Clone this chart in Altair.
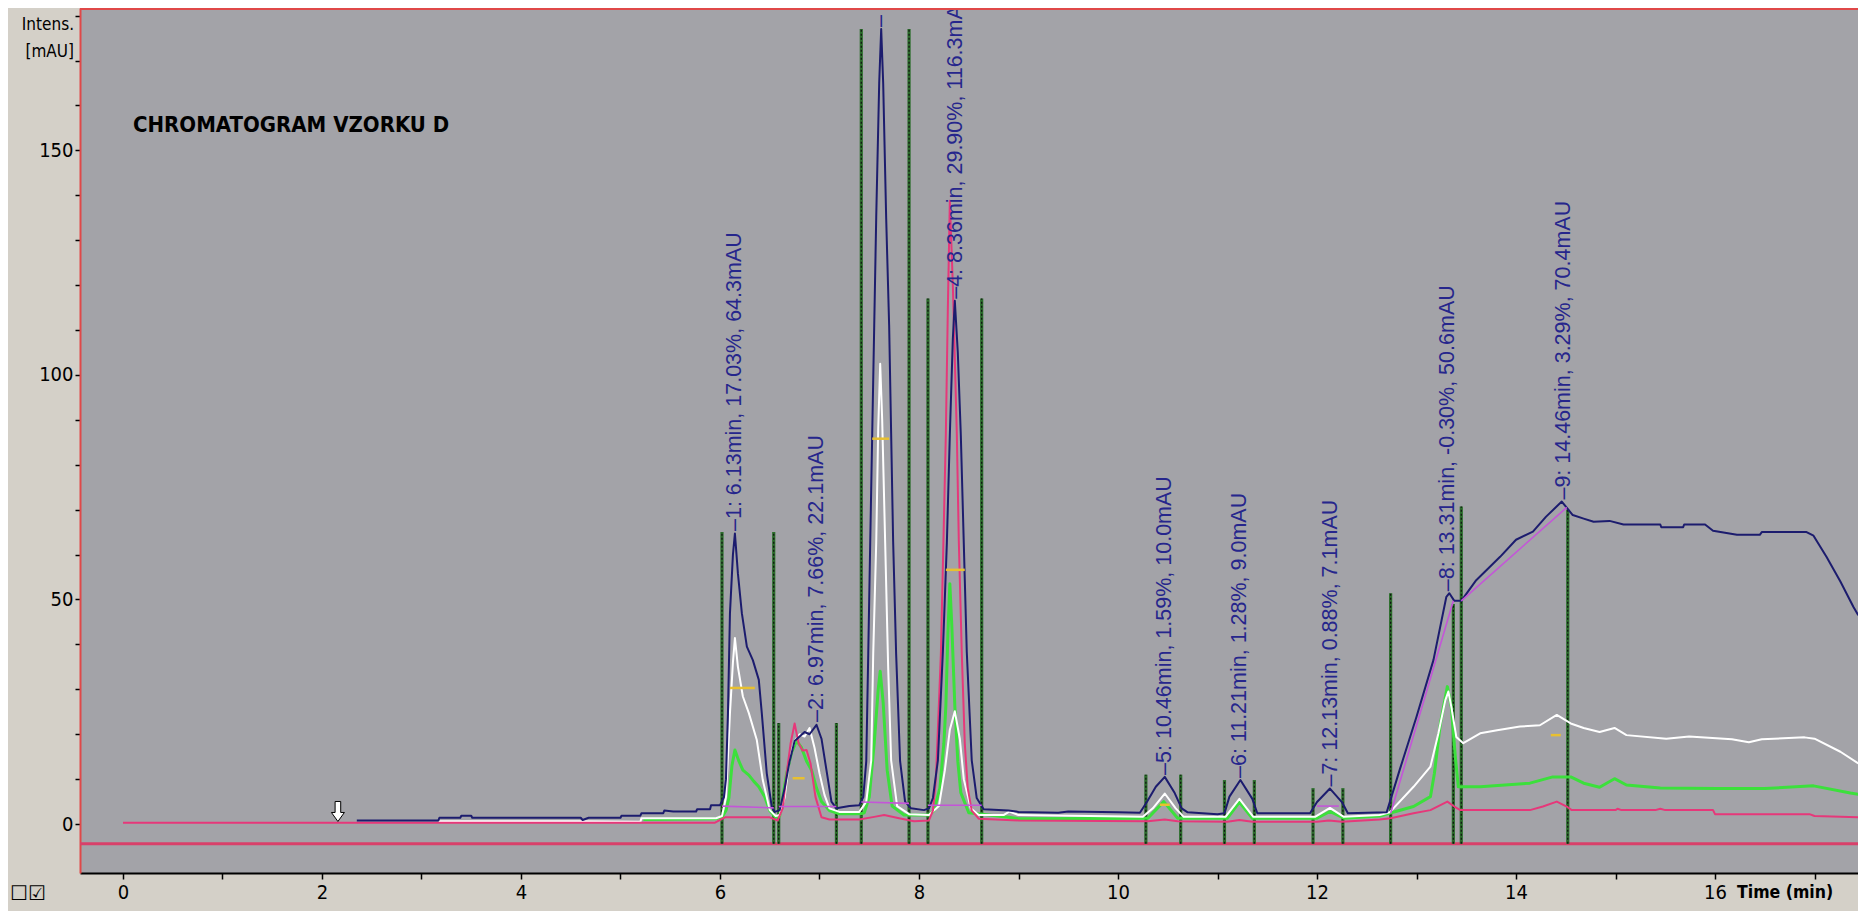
import altair as alt
import pandas as pd

# ---------------- data ----------------
navy_t = [2.35, 3.17, 3.18, 3.39, 3.40, 3.50, 3.51, 4.60, 4.62, 4.68, 5.00, 5.01, 5.20, 5.21, 5.43, 5.44, 5.53, 5.76, 5.77, 5.90, 5.91, 6.00,
          6.04, 6.06, 6.08, 6.10, 6.13, 6.15, 6.18, 6.22, 6.27, 6.33, 6.39, 6.42, 6.47, 6.52, 6.55,
          6.60, 6.65, 6.70, 6.75, 6.80, 6.85, 6.90, 6.97, 7.02, 7.07, 7.12, 7.17, 7.30, 7.40,
          7.44, 7.47, 7.49, 7.51, 7.53, 7.55, 7.57, 7.60, 7.62, 7.64, 7.67, 7.70, 7.72, 7.74, 7.77, 7.81, 7.86, 7.92,
          8.05, 8.10, 8.14, 8.19, 8.24, 8.28, 8.31, 8.34, 8.36, 8.39, 8.42, 8.45, 8.48, 8.53, 8.58, 8.65,
          8.90, 9.00, 9.40, 9.50, 10.00, 10.22, 10.29, 10.38, 10.47, 10.57, 10.64, 10.70, 11.00,
          11.07, 11.12, 11.23, 11.35, 11.40, 11.93, 12.00, 12.13, 12.25, 12.31, 12.70,
          12.83, 13.00, 13.17, 13.30, 13.33, 13.38, 13.45, 13.60, 13.84, 14.00, 14.17, 14.30, 14.46,
          14.57, 14.68, 14.78, 14.94, 15.08, 15.45, 15.46, 15.68, 15.69, 15.90, 15.98, 16.22, 16.45, 16.47,
          16.92, 16.99, 17.12, 17.26, 17.39, 17.44]
navy_v = [0.8, 0.8, 1.4, 1.4, 1.85, 1.85, 1.4, 1.4, 0.9, 1.4, 1.4, 1.85, 1.85, 2.4, 2.4, 3.0, 2.8, 2.8, 3.3, 3.3, 4.2, 4.2,
          6.0, 10.0, 24.7, 46.9, 60.0, 64.7, 55.8, 46.9, 39.5, 36.5, 32.1, 24.7, 11.3, 3.9, 2.7,
          3.1, 8.0, 14.0, 18.5, 19.5, 20.5, 20.0, 22.1, 19.0, 12.0, 5.0, 3.5, 4.0, 4.2,
          6.0, 14.0, 38.0, 63.0, 87.0, 111.0, 135.0, 165.0, 177.0, 165.0, 135.0, 111.0, 87.0, 63.0, 38.0, 14.0, 5.0, 3.5,
          3.1, 3.5, 5.8, 14.2, 38.4, 62.6, 86.8, 108.0, 116.5, 105.0, 86.8, 62.6, 38.4, 14.2, 5.8, 3.3,
          3.0, 2.7, 2.5, 2.8, 2.6, 2.5, 4.9, 8.3, 10.5, 6.9, 3.5, 2.6, 2.2,
          2.4, 6.1, 9.8, 5.6, 2.4, 2.4, 4.9, 7.9, 4.9, 2.4, 2.6,
          12.0, 23.9, 36.5, 50.6, 51.4, 49.7, 49.7, 54.3, 59.5, 63.3, 65.1, 68.4, 71.8,
          68.8, 68.0, 67.3, 67.5, 66.7, 66.7, 66.1, 66.1, 66.7, 66.7, 65.3, 64.4, 64.4, 65.0,
          65.0, 64.2, 59.5, 54.0, 48.4, 46.5]

white_t = [3.17, 4.60, 5.20, 5.21, 5.96, 6.02, 6.06, 6.08, 6.10, 6.13, 6.15, 6.18, 6.23, 6.29, 6.37, 6.43, 6.50, 6.56,
           6.60, 6.65, 6.70, 6.75, 6.80, 6.85, 6.90, 6.95, 7.00, 7.05, 7.10, 7.20, 7.40,
           7.47, 7.52, 7.54, 7.57, 7.59, 7.61, 7.63, 7.66, 7.69, 7.72, 7.78, 7.90,
           8.10, 8.20, 8.26, 8.31, 8.36, 8.41, 8.45, 8.52, 8.60, 8.85, 8.91, 9.00,
           10.25, 10.35, 10.47, 10.58, 10.66, 11.08, 11.22, 11.36, 11.98, 12.13, 12.27, 12.63, 12.73,
           12.97, 13.14, 13.22, 13.29, 13.32, 13.35, 13.40, 13.47, 13.64, 13.81, 14.04, 14.24, 14.41,
           14.55, 14.68, 14.84, 14.99, 15.11, 15.51, 15.74, 16.17, 16.34, 16.47, 16.90, 17.00, 17.26, 17.44]
white_v = [0.6, 0.6, 0.5, 1.3, 1.3, 1.8, 6.0, 15.0, 24.7, 36.0, 41.4, 35.0, 28.4, 24.7, 18.7, 9.8, 3.1, 1.8,
           2.0, 5.9, 14.7, 18.5, 20.0, 19.5, 21.4, 17.0, 11.3, 6.5, 3.5, 2.7, 2.7,
           5.0, 14.2, 38.0, 62.6, 88.0, 102.5, 90.0, 62.6, 35.0, 14.2, 4.0, 2.2,
           2.0, 4.0, 12.0, 21.0, 25.1, 19.0, 10.0, 3.5, 2.0, 2.0, 2.8, 2.0,
           1.6, 3.5, 6.8, 3.5, 1.6, 1.6, 5.6, 1.6, 1.6, 3.6, 1.6, 2.0, 2.6,
           8.3, 12.8, 20.2, 27.6, 29.5, 26.1, 19.4, 18.0, 20.2, 20.9, 21.7, 22.0, 24.3,
           22.4, 21.4, 20.5, 21.4, 19.8, 19.0, 19.5, 18.9, 18.2, 18.9, 19.3, 19.0, 16.1, 13.5]

green_t = [5.23, 5.96, 6.02, 6.06, 6.09, 6.12, 6.15, 6.19, 6.23, 6.29, 6.34, 6.39, 6.45, 6.50, 6.56,
           6.60, 6.67, 6.72, 6.77, 6.82, 6.87, 6.92, 6.97, 7.02, 7.10, 7.20, 7.42,
           7.45, 7.50, 7.55, 7.59, 7.61, 7.64, 7.68, 7.73, 7.85, 8.10,
           8.15, 8.21, 8.25, 8.27, 8.29, 8.31, 8.33, 8.36, 8.39, 8.42, 8.50, 8.90, 9.00,
           10.30, 10.46, 10.60, 11.10, 11.22, 11.35, 12.00, 12.13, 12.27, 12.63, 12.97, 13.14,
           13.18, 13.24, 13.31, 13.35, 13.39, 13.42, 13.64, 14.14, 14.37, 14.55, 14.68, 14.84,
           14.99, 15.11, 15.45, 16.02, 16.50, 16.99, 17.36, 17.44]
green_v = [1.0, 1.2, 1.5, 3.0, 5.9, 13.0, 16.5, 14.0, 12.0, 10.9, 9.5, 8.3, 6.0, 3.0, 1.5,
           1.8, 11.3, 16.0, 18.5, 17.0, 14.0, 12.0, 8.0, 5.0, 3.0, 2.3, 2.3,
           2.5, 6.0, 18.0, 30.0, 34.0, 27.0, 12.0, 4.0, 2.0, 2.0,
           3.0, 8.0, 18.0, 26.3, 42.0, 53.5, 44.0, 26.3, 14.0, 7.0, 2.5, 1.5, 1.2,
           1.3, 5.0, 1.3, 1.3, 4.9, 1.3, 1.3, 2.8, 1.3, 1.8, 3.9, 6.1,
           11.3, 22.4, 30.6, 26.1, 15.0, 8.3, 8.3, 9.1, 10.5, 10.5, 9.1, 8.2,
           10.1, 8.7, 8.0, 7.9, 7.9, 8.5, 6.9, 6.6]

pink_t = [0.0, 5.95, 6.05, 6.50, 6.58, 6.63, 6.67, 6.71, 6.75, 6.79, 6.83, 6.87, 6.91, 6.96, 7.02, 7.10, 7.40,
          7.55, 7.65, 7.80, 7.95, 8.10, 8.14, 8.17, 8.22, 8.27, 8.29, 8.31, 8.34, 8.38, 8.40, 8.43, 8.46, 8.49,
          8.53, 8.60, 9.00, 10.30, 10.47, 10.60, 11.10, 11.22, 11.35, 12.00, 12.12, 12.25, 12.63, 12.74,
          12.97, 13.14, 13.24, 13.31, 13.38, 13.44, 14.14, 14.27, 14.41, 14.51, 14.56, 15.00, 15.02, 15.06,
          15.40, 15.45, 15.50, 15.98, 16.00, 16.95, 17.00, 17.44]
pink_v = [0.3, 0.3, 1.5, 1.5, 0.8, 3.5, 11.3, 18.0, 22.4, 18.0, 16.4, 16.5, 13.5, 6.0, 1.5, 1.0, 1.0,
          1.6, 2.0, 1.3, 0.6, 0.8, 3.0, 10.0, 38.0, 87.0, 115.0, 138.8, 120.0, 87.0, 63.0, 38.0, 18.0, 8.0,
          3.0, 1.2, 0.8, 0.6, 1.0, 0.6, 0.5, 0.9, 0.5, 0.5, 0.8, 0.5, 1.0, 1.3,
          2.4, 3.1, 4.2, 5.0, 3.9, 3.1, 3.1, 3.9, 5.0, 3.9, 3.1, 3.1, 3.4, 3.1,
          3.1, 3.4, 3.1, 3.1, 2.2, 2.2, 1.8, 1.5]

# integration baselines (violet), one segment each
base_seg = ["a", "a", "b", "b", "c", "c", "d", "d", "e", "e", "f", "f", "g", "g"]
base_t = [6.02, 6.54, 6.59, 7.17, 7.42, 7.90, 8.09, 8.63, 12.00, 12.22, 12.74, 13.37, 13.45, 14.51]
base_v = [4.0, 3.6, 3.9, 3.9, 4.9, 4.6, 4.2, 4.2, 4.0, 4.0, 2.4, 49.7, 49.7, 70.5]

# half-height marks (yellow)
half_t1 = [6.10, 6.73, 7.53, 8.27, 10.42, 14.35]
half_t2 = [6.35, 6.85, 7.70, 8.46, 10.52, 14.45]
half_v = [30.3, 10.2, 85.8, 56.6, 4.3, 19.8]

# peak boundary markers
bound_t = [6.02, 6.54, 6.59, 7.17, 7.42, 7.90, 8.09, 8.63, 10.28, 10.63, 11.07, 11.37, 11.96, 12.26, 12.74, 13.37, 13.45, 14.52]
bound_top = [65, 65, 22.5, 22.5, 177, 177, 117, 117, 11, 11, 9.8, 9.8, 8, 8, 51.4, 49, 70.7, 70]

# peak labels
peak_t = [6.15, 6.97, 7.62, 8.37, 10.47, 11.23, 12.14, 13.32, 14.48]
peak_v = [64.8, 22.3, 177.0, 116.5, 10.5, 9.8, 7.9, 51.4, 71.8]
peak_label = ["1: 6.13min, 17.03%, 64.3mAU", "2: 6.97min, 7.66%, 22.1mAU", "",
              "4: 8.36min, 29.90%, 116.3mAU", "5: 10.46min, 1.59%, 10.0mAU",
              "6: 11.21min, 1.28%, 9.0mAU", "7: 12.13min, 0.88%, 7.1mAU",
              "8: 13.31min, -0.30%, 50.6mAU", "9: 14.46min, 3.29%, 70.4mAU"]

# injection marker
arrow_t = [2.16]
arrow_v = [2.8]

zero_line = [-4.4]
x_ticks = list(range(0, 18))
y_ticks = list(range(0, 190, 10))

# ---------------- chart ----------------
W, H = 1778, 865
xs = alt.Scale(domain=[-0.432, 17.437], nice=False, zero=False)
ys = alt.Scale(domain=[-10.9, 181.7], nice=False, zero=False)
NARROW = "'Liberation Sans Narrow', 'DejaVu Sans Condensed', 'Liberation Sans', Arial"

xaxis = alt.Axis(values=x_ticks, labelExpr="datum.value % 2 == 0 ? datum.label : ''", format="d",
                 tickSize=6, tickWidth=1.5, tickColor="black", domainColor="black", domainWidth=2,
                 labelFont=NARROW, labelFontSize=20, labelColor="black", grid=False, title=None,
                 labelPadding=3, labelOverlap=False, labelFlush=False)
yaxis = alt.Axis(values=y_ticks, labelExpr="datum.value % 50 == 0 ? datum.label : ''", format="d",
                 tickSize=5, tickWidth=1.5, tickColor="black", domainColor="#E04848", domainWidth=2,
                 labelFont=NARROW, labelFontSize=20, labelColor="black", grid=False, title=None,
                 labelPadding=2, labelOverlap=False, labelFlush=False)

X = alt.X("t:Q", scale=xs, axis=xaxis)
Y = alt.Y("v:Q", scale=ys, axis=yaxis)


def trace(t, v, color, width):
    df = pd.DataFrame({"t": t, "v": v})
    return alt.Chart(df).mark_line(color=color, strokeWidth=width, clip=True,
                                   strokeJoin="round").encode(x=X, y=Y)


red_line = alt.Chart(pd.DataFrame({"v": zero_line})).mark_rule(
    color="#D8406A", strokeWidth=3).encode(y=Y, x=alt.value(0), x2=alt.value(W))

top_border = alt.Chart(pd.DataFrame({"v": [0]})).mark_rule(
    color="#E04848", strokeWidth=2).encode(x=alt.value(0), x2=alt.value(W), y=alt.value(1))

bdf = pd.DataFrame({"t": bound_t, "v": [zero_line[0]] * len(bound_t), "v2": bound_top})
bound_green = alt.Chart(bdf).mark_rule(color="#2C6E2C", strokeWidth=3.2).encode(x=X, y=Y, y2="v2:Q")
bound_black = alt.Chart(bdf).mark_rule(color="#101010", strokeWidth=1.2, strokeDash=[2, 2]).encode(
    x=X, y=Y, y2="v2:Q")

green = trace(green_t, green_v, "#3CE03C", 3)
white = trace(white_t, white_v, "#FFFFFF", 2)
pink = trace(pink_t, pink_v, "#E6387A", 2)
navy = trace(navy_t, navy_v, "#1C1C6E", 2)

basedf = pd.DataFrame({"t": base_t, "v": base_v, "seg": base_seg})
baselines = alt.Chart(basedf).mark_line(color="#C455D8", strokeWidth=1.6, clip=True).encode(
    x=X, y=Y, detail="seg:N")

hdf = pd.DataFrame({"t": half_t1, "t2": half_t2, "v": half_v})
halfmarks = alt.Chart(hdf).mark_rule(color="#E8C030", strokeWidth=2.5).encode(x=X, x2="t2:Q", y=Y)

ldf = pd.DataFrame({"t": peak_t, "v": peak_v, "txt": ["\u2013" + s for s in peak_label]})
labels = alt.Chart(ldf).mark_text(angle=270, align="left", baseline="middle", dx=2,
                                  font="Liberation Sans", fontSize=21.5, color="#26268C",
                                  clip=True).encode(x=X, y=Y, text="txt:N")

ARROW = "M-0.28,-1L0.28,-1L0.28,0.1L0.65,0.1L0,1L-0.65,0.1L-0.28,0.1Z"
arrow = alt.Chart(pd.DataFrame({"t": arrow_t, "v": arrow_v})).mark_point(
    shape=ARROW, filled=True, fill="white", stroke="black", strokeWidth=1, size=400, opacity=1
).encode(x=X, y=Y)


def free_text(txt, x, y, size, align="left", weight="normal", font="Liberation Sans"):
    return alt.Chart(pd.DataFrame({"txt": [txt]})).mark_text(
        align=align, baseline="middle", fontSize=size, fontWeight=weight, font=font, color="black"
    ).encode(x=alt.value(x), y=alt.value(y), text="txt:N")


title = free_text("CHROMATOGRAM VZORKU D", 53, 117, 22, weight="bold", font=NARROW)
intens = free_text("Intens.", -6, 17, 17, align="right", font=NARROW)
mau = free_text("[mAU]", -6, 44, 17, align="right", font=NARROW)
time_lbl = free_text("Time (min)", 1657, 885, 17.5, weight="bold", font=NARROW)
checks = free_text("\u2610\u2611", -70, 886, 20, font="DejaVu Sans")

chart = alt.layer(
    red_line, bound_green, bound_black, green, white, pink, navy, baselines, halfmarks,
    labels, arrow, top_border, title, intens, mau, time_lbl, checks
).properties(
    width=W, height=H,
    autosize=alt.AutoSizeParams(type="none"),
    padding={"left": 72, "top": 0, "right": 0, "bottom": 38},
    background="#D4D0C8",
).configure_view(fill="#A3A3A8", stroke=None)

chart.save("out.html", embed_options={"renderer": "svg", "actions": False})
